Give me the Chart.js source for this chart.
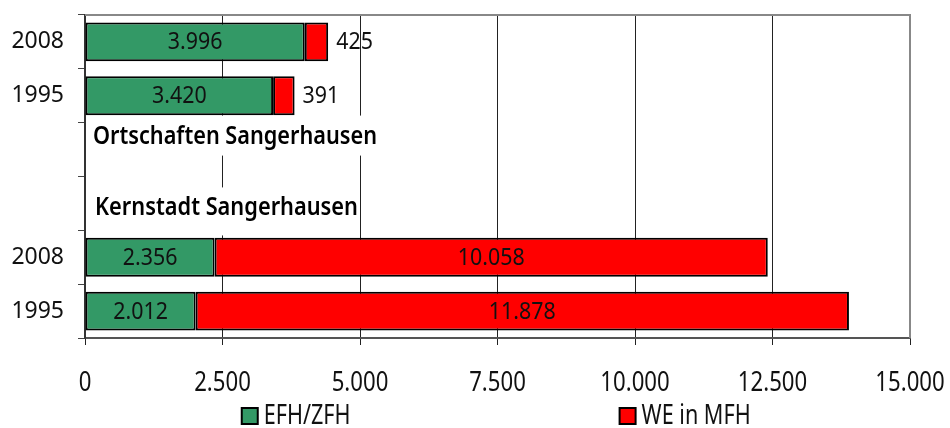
<!DOCTYPE html>
<html>
<head>
<meta charset="utf-8">
<script src="https://cdn.jsdelivr.net/npm/chart.js@4.4.1/dist/chart.umd.min.js"></script>
<style>
  html, body { margin: 0; padding: 0; background: #fff; }
  #wrap { width: 950px; height: 428px; position: relative; }
</style>
</head>
<body>
<div id="wrap"><canvas id="myChart"></canvas></div>
<script>
// categories top to bottom, two empty rows hold the group captions
const categories = ['2008', '1995', '', '', '2008', '1995']
const efhZfh = [3996, 3420, null, null, 2356, 2012]
const weMfh = [425, 391, null, null, 10058, 11878]
const seriesNames = ['EFH/ZFH', 'WE in MFH']
const groupLabels = ['Ortschaften Sangerhausen', 'Kernstadt Sangerhausen']
const xTicks = [0, 2500, 5000, 7500, 10000, 12500, 15000]

const fontFam = '"Noto Sans", "DejaVu Sans", sans-serif'

function fmt(v) {
    return String(v).replace(/\B(?=(\d{3})+(?!\d))/g, '.')
}

// no narrow font installed, so squeeze text with maxWidth
function squeeze(ctx, text, x, y, factor) {
    const w = ctx.measureText(text).width
    ctx.fillText(text, x, y, w * factor)
}

// value labels inside the bars, or right of the bar when the piece is tiny
const valueLabels = {
    id: 'valueLabels',
    afterDatasetsDraw(chart) {
        const ctx = chart.ctx
        ctx.save()
        ctx.font = '23px ' + fontFam
        ctx.fillStyle = '#111'
        ctx.textBaseline = 'middle'
        chart.data.datasets.forEach((ds, di) => {
            const meta = chart.getDatasetMeta(di)
            meta.data.forEach((bar, i) => {
                const v = ds.data[i]
                if (v == null) return
                const w = bar.x - bar.base
                if (w > 50) {
                    ctx.textAlign = 'center'
                    squeeze(ctx, fmt(v), (bar.x + bar.base) / 2, bar.y + 1, 0.93)
                } else {
                    ctx.textAlign = 'left'
                    squeeze(ctx, fmt(v), bar.x + 8, bar.y + 1, 0.93)
                }
            })
        })
        ctx.restore()
    }
}

// frame, group captions on white boxes, x tick labels, legend
const extras = {
    id: 'extras',
    beforeDatasetsDraw(chart) {
        const ctx = chart.ctx
        const a = chart.chartArea
        const y = chart.scales.y
        ctx.save()
        ctx.strokeStyle = '#888'
        ctx.lineWidth = 2
        ctx.beginPath()
        ctx.moveTo(a.left, a.top)
        ctx.lineTo(a.right, a.top)
        ctx.lineTo(a.right, a.bottom)
        ctx.stroke()

        const c1 = y.getPixelForValue(2)
        const c2 = y.getPixelForValue(3)
        ctx.fillStyle = '#fff'
        ctx.fillRect(a.left + 3, c1 - 34, 294, 40)
        ctx.fillRect(a.left + 3, c2 - 16, 272, 48)

        ctx.fillStyle = '#000'
        ctx.font = '600 26px ' + fontFam
        ctx.textAlign = 'left'
        ctx.textBaseline = 'middle'
        ctx.fillText(groupLabels[0], a.left + 8, c1 - 13, 284)
        ctx.fillText(groupLabels[1], a.left + 10, c2 + 4, 263)
        ctx.restore()
    },
    afterDraw(chart) {
        const ctx = chart.ctx
        const a = chart.chartArea
        const xs = chart.scales.x
        ctx.save()
        ctx.fillStyle = '#111'
        ctx.font = '27px ' + fontFam
        ctx.textBaseline = 'middle'
        ctx.textAlign = 'center'
        xs.ticks.forEach(t => {
            squeeze(ctx, fmt(t.value), xs.getPixelForValue(t.value), xs.top + 45, 0.82)
        })

        const w = a.right - a.left
        const pos = [a.left + w * 0.19, a.left + w * 0.648]
        ctx.textAlign = 'left'
        chart.data.datasets.forEach((ds, i) => {
            const x = pos[i]
            ctx.fillStyle = ds.backgroundColor
            ctx.fillRect(x, 408, 16, 16)
            ctx.strokeStyle = '#000'
            ctx.lineWidth = 2
            ctx.strokeRect(x, 408, 16, 16)
            ctx.fillStyle = '#111'
            squeeze(ctx, ds.label, x + 22, 416, 0.8)
        })
        ctx.restore()
    }
}

const ctx = document.getElementById('myChart')
const myChart = new Chart(ctx, {
    type: 'bar',
    data: {
        labels: categories,
        datasets: [{
            label: seriesNames[0],
            data: efhZfh,
            backgroundColor: '#339966',
            borderColor: '#000',
            borderWidth: 2,
            borderSkipped: false
        }, {
            label: seriesNames[1],
            data: weMfh,
            backgroundColor: '#ff0000',
            borderColor: '#000',
            borderWidth: 2,
            borderSkipped: false
        }]
    },
    options: {
        indexAxis: 'y',
        responsive: true,
        maintainAspectRatio: false,
        animation: false,
        barPercentage: 0.72,
        categoryPercentage: 1,
        layout: { padding: { top: 15, right: 40, bottom: 40, left: 0 } },
        plugins: {
            legend: { display: false },
            tooltip: { enabled: false }
        },
        scales: {
            x: {
                stacked: true,
                min: 0,
                max: 15000,
                afterBuildTicks(scale) {
                    scale.ticks = xTicks.map(v => ({ value: v }))
                },
                afterFit(scale) {
                    scale.height = 50
                    scale.paddingLeft = 0
                    scale.paddingRight = 0
                },
                grid: { color: '#222', lineWidth: 1, tickLength: 7 },
                border: { color: '#555', width: 2 },
                ticks: { display: false }
            },
            y: {
                stacked: true,
                afterFit(scale) {
                    scale.width = 85
                    scale.paddingTop = 0
                    scale.paddingBottom = 0
                },
                grid: { drawOnChartArea: false, color: '#444', tickLength: 7, offset: true },
                border: { color: '#333', width: 2 },
                ticks: {
                    font: { family: fontFam, size: 23 },
                    color: '#111',
                    padding: 14
                }
            }
        }
    },
    plugins: [extras, valueLabels]
})
</script>
</body>
</html>
